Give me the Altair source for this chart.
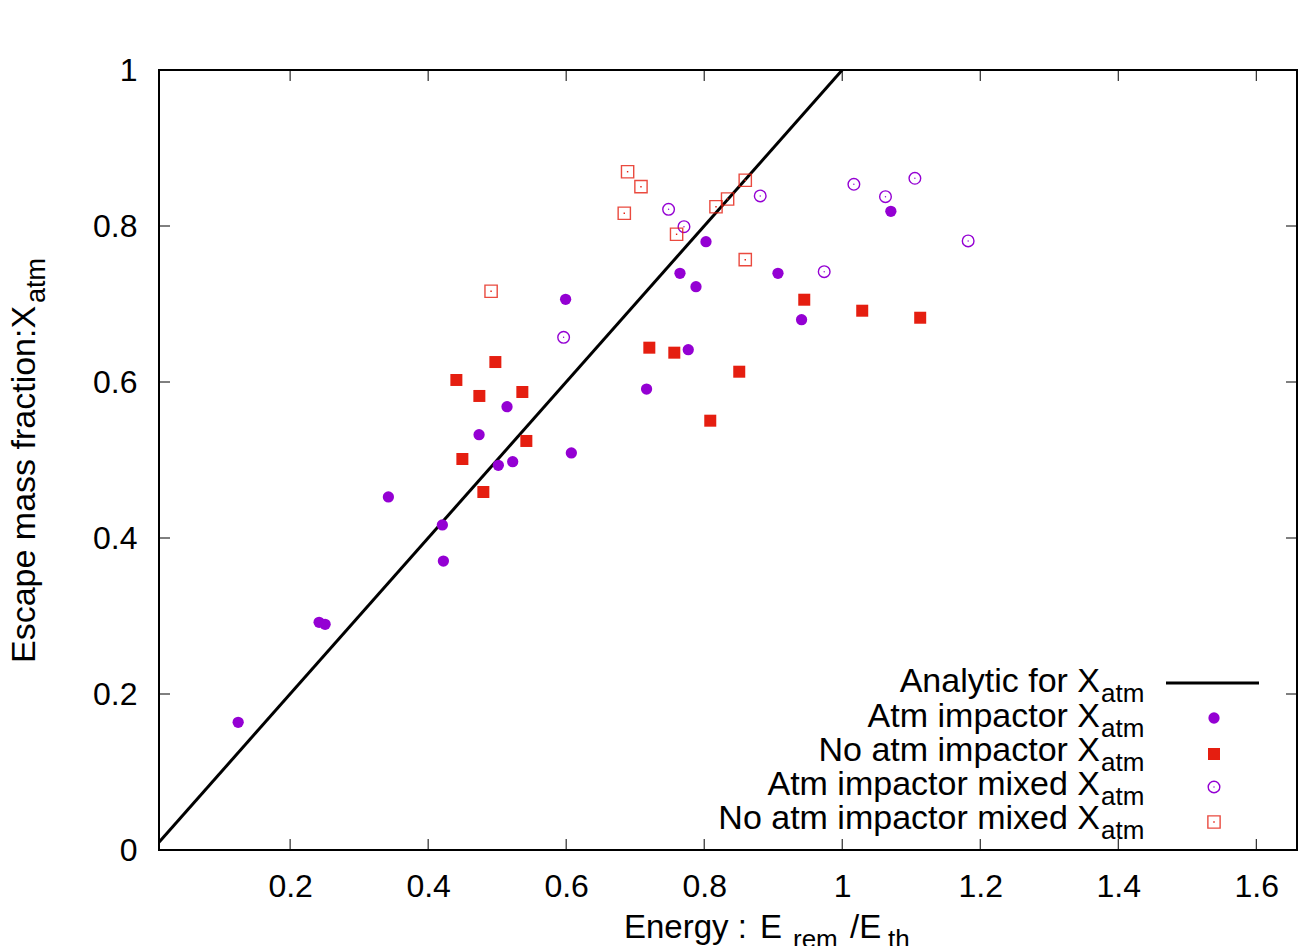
import altair as alt
import pandas as pd

# ---------------- data ----------------
atm_x = [0.1247, 0.2420, 0.2507, 0.3424, 0.4206, 0.4221, 0.4738, 0.5017, 0.5143, 0.5225,
         0.5992, 0.6075, 0.7165, 0.7649, 0.7769, 0.7881, 0.8026, 0.9069, 0.9411, 1.0705]
atm_y = [0.1637, 0.2919, 0.2894, 0.4526, 0.4167, 0.3705, 0.5324, 0.4932, 0.5683, 0.4978,
         0.7060, 0.5090, 0.5910, 0.7394, 0.6414, 0.7222, 0.7799, 0.7394, 0.6799, 0.8188]

noatm_x = [0.4409, 0.4496, 0.4742, 0.4800, 0.4974, 0.5365, 0.5423, 0.7205, 0.7567, 0.8088,
           0.8508, 0.9450, 1.0290, 1.1130]
noatm_y = [0.6026, 0.5013, 0.5821, 0.4590, 0.6256, 0.5872, 0.5244, 0.6440, 0.6376, 0.5504,
           0.6132, 0.7055, 0.6914, 0.6824]

atm_mix_x = [0.5963, 0.7484, 0.7707, 0.8812, 0.9739, 1.0169, 1.0627, 1.1053, 1.1825]
atm_mix_y = [0.6573, 0.8214, 0.7991, 0.8385, 0.7414, 0.8535, 0.8376, 0.8612, 0.7808]

noatm_mix_x = [0.4912, 0.6842, 0.6890, 0.7084, 0.7600, 0.8171, 0.8339, 0.8595, 0.8595]
noatm_mix_y = [0.7163, 0.8163, 0.8696, 0.8504, 0.7894, 0.8247, 0.8346, 0.8586, 0.7568]

line_x = [0.01, 1.0]
line_y = [0.01, 1.0]

tick_x = [0.2, 0.4, 0.6, 0.8, 1.0, 1.2, 1.4, 1.6]
tick_y = [0.0, 0.2, 0.4, 0.6, 0.8, 1.0]

legend_labels = ["Analytic for X", "Atm impactor X", "No atm impactor X",
                 "Atm impactor mixed X", "No atm impactor mixed X"]
legend_sub = "atm"
y_title_main = "Escape mass fraction:X"
y_title_sub = "atm"
x_title_parts = ["Energy : ", "E", "rem", "/E", "th"]

# ---------------- style ----------------
W, H = 1138, 780
PAD_L, PAD_T = 151, 62
FONT = "Liberation Sans"
PURPLE = "#9400d3"
RED = "#e51e10"

xscale = alt.Scale(domain=[0.01, 1.659], nice=False, zero=False)
yscale = alt.Scale(domain=[0.0, 1.0], nice=False, zero=False)

xaxis = alt.Axis(values=tick_x, format=".1~f", title=None, grid=False, ticks=False,
                 tickSize=0, domain=False, labelFont=FONT, labelFontSize=32,
                 labelColor="black", labelPadding=21, labelFlush=False, labelOverlap=False)
yaxis = alt.Axis(values=tick_y, format=".1~f", title=None, grid=False, ticks=False,
                 tickSize=0, domain=False, labelFont=FONT, labelFontSize=32,
                 labelColor="black", labelPadding=22, labelFlush=False, labelOverlap=False)


def X(f="x"):
    return alt.X(f, type="quantitative", scale=xscale, axis=xaxis)


def Y(f="y"):
    return alt.Y(f, type="quantitative", scale=yscale, axis=yaxis)


def df(xs, ys):
    return pd.DataFrame({"x": xs, "y": ys})


def ax(px):
    """absolute page x -> plot x"""
    return px - 8 - PAD_L


def ay(py):
    """absolute page y -> plot y"""
    return py - 8 - PAD_T


one = alt.Data(values=[{"k": 1}])

S_FC, S_FS, S_OC, S_OS = 127, 144, 135, 150

layers = []

# analytic line
layers.append(alt.Chart(df(line_x, line_y)).mark_line(color="black", strokeWidth=3)
              .encode(x=X(), y=Y()))

# series
layers.append(alt.Chart(df(atm_x, atm_y)).mark_point(shape="circle", filled=True, color=PURPLE,
                                                      size=S_FC, opacity=1)
              .encode(x=X(), y=Y()))
layers.append(alt.Chart(df(noatm_x, noatm_y)).mark_point(shape="square", filled=True, color=RED,
                                                          size=S_FS, opacity=1)
              .encode(x=X(), y=Y()))
layers.append(alt.Chart(df(atm_mix_x, atm_mix_y)).mark_point(shape="circle", filled=False,
                                                              color=PURPLE, size=S_OC,
                                                              strokeWidth=1.4, opacity=1)
              .encode(x=X(), y=Y()))
layers.append(alt.Chart(df(atm_mix_x, atm_mix_y)).mark_point(shape="circle", filled=True,
                                                              color=PURPLE, size=2, opacity=1)
              .encode(x=X(), y=Y()))
layers.append(alt.Chart(df(noatm_mix_x, noatm_mix_y)).mark_point(shape="square", filled=False,
                                                                  color=RED, size=S_OS,
                                                                  strokeWidth=1.4, opacity=0.8)
              .encode(x=X(), y=Y()))
layers.append(alt.Chart(df(noatm_mix_x, noatm_mix_y)).mark_point(shape="square", filled=True,
                                                                  color=RED, size=2, opacity=1)
              .encode(x=X(), y=Y()))

# inward ticks (mirrored on all four sides)
tx = pd.DataFrame({"x": tick_x})
ty = pd.DataFrame({"y": tick_y})
layers.append(alt.Chart(tx).mark_rule(color="black", strokeWidth=1)
              .encode(x=X(), y=alt.value(H), y2=alt.value(H - 11)))
layers.append(alt.Chart(tx).mark_rule(color="black", strokeWidth=1)
              .encode(x=X(), y=alt.value(0), y2=alt.value(11)))
layers.append(alt.Chart(ty).mark_rule(color="black", strokeWidth=1)
              .encode(y=Y(), x=alt.value(0), x2=alt.value(11)))
layers.append(alt.Chart(ty).mark_rule(color="black", strokeWidth=1)
              .encode(y=Y(), x=alt.value(W), x2=alt.value(W - 11)))

# legend (positions in page pixels)
LEG_TEXT_X = ax(1100)
LEG_SYM_X = ax(1214)
leg_base = [ay(b) for b in [692, 727, 761, 795, 829]]
leg_sym_y = [ay(s) for s in [683, 718, 754, 787, 822]]
for lab, b in zip(legend_labels, leg_base):
    layers.append(alt.Chart(one).mark_text(font=FONT, fontSize=34, align="right",
                                           baseline="alphabetic", color="black")
                  .encode(x=alt.value(LEG_TEXT_X), y=alt.value(b), text=alt.value(lab)))
    layers.append(alt.Chart(one).mark_text(font=FONT, fontSize=26, align="left",
                                           baseline="alphabetic", color="black")
                  .encode(x=alt.value(LEG_TEXT_X + 1), y=alt.value(b + 10),
                          text=alt.value(legend_sub)))

layers.append(alt.Chart(one).mark_rule(color="black", strokeWidth=3)
              .encode(x=alt.value(ax(1166)), x2=alt.value(ax(1259)), y=alt.value(leg_sym_y[0])))
layers.append(alt.Chart(one).mark_point(shape="circle", filled=True, color=PURPLE, size=S_FC,
                                        opacity=1)
              .encode(x=alt.value(LEG_SYM_X), y=alt.value(leg_sym_y[1])))
layers.append(alt.Chart(one).mark_point(shape="square", filled=True, color=RED, size=S_FS,
                                        opacity=1)
              .encode(x=alt.value(LEG_SYM_X), y=alt.value(leg_sym_y[2])))
layers.append(alt.Chart(one).mark_point(shape="circle", filled=False, color=PURPLE, size=S_OC,
                                        strokeWidth=1.4, opacity=1)
              .encode(x=alt.value(LEG_SYM_X), y=alt.value(leg_sym_y[3])))
layers.append(alt.Chart(one).mark_point(shape="circle", filled=True, color=PURPLE, size=2,
                                        opacity=1)
              .encode(x=alt.value(LEG_SYM_X), y=alt.value(leg_sym_y[3])))
layers.append(alt.Chart(one).mark_point(shape="square", filled=False, color=RED, size=S_OS,
                                        strokeWidth=1.4, opacity=0.8)
              .encode(x=alt.value(LEG_SYM_X), y=alt.value(leg_sym_y[4])))
layers.append(alt.Chart(one).mark_point(shape="square", filled=True, color=RED, size=2,
                                        opacity=1)
              .encode(x=alt.value(LEG_SYM_X), y=alt.value(leg_sym_y[4])))

# y axis title (rotated, with subscript)
layers.append(alt.Chart(one).mark_text(font=FONT, fontSize=34, align="left",
                                       baseline="alphabetic", angle=270, color="black")
              .encode(x=alt.value(ax(35)), y=alt.value(ay(663)), text=alt.value(y_title_main)))
layers.append(alt.Chart(one).mark_text(font=FONT, fontSize=27, align="left",
                                       baseline="alphabetic", angle=270, color="black")
              .encode(x=alt.value(ax(45)), y=alt.value(ay(303)), text=alt.value(y_title_sub)))

# x axis title pieces
x_pos = [ax(p) for p in [624, 760, 793, 850, 888]]
x_base = [ay(p) for p in [938, 938, 948, 938, 948]]
x_size = [33, 33, 26, 33, 26]
for t, px, py, fs in zip(x_title_parts, x_pos, x_base, x_size):
    layers.append(alt.Chart(one).mark_text(font=FONT, fontSize=fs, align="left",
                                           baseline="alphabetic", color="black")
                  .encode(x=alt.value(px), y=alt.value(py), text=alt.value(t)))

chart = (alt.layer(*layers)
         .properties(width=W, height=H,
                     autosize=alt.AutoSizeParams(type="none"),
                     padding={"left": PAD_L, "top": PAD_T, "right": 1, "bottom": 96},
                     background="white")
         .configure_view(stroke="black", strokeWidth=2))

chart.save("out.html", embed_options={"renderer": "svg", "actions": False})
